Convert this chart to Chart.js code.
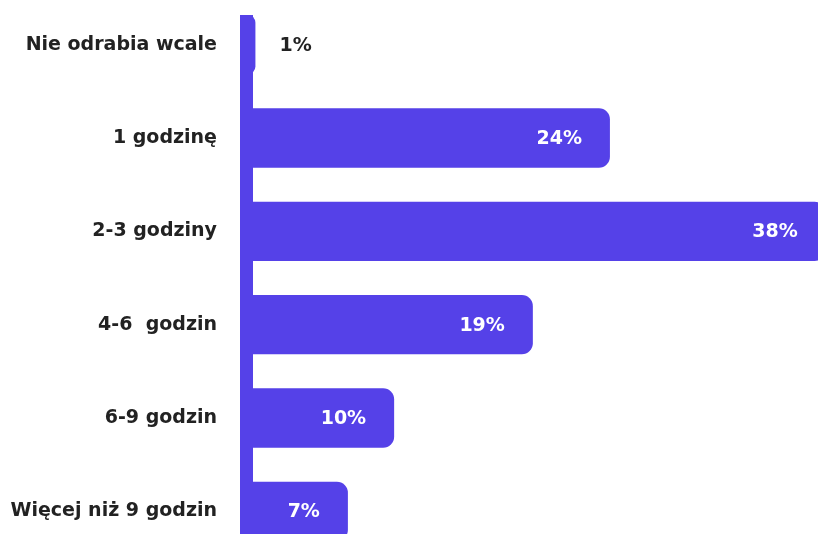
<!DOCTYPE html>
<html lang="pl">
<head>
<meta charset="UTF-8">
<title>Czas na prace domowe</title>
<script src="https://cdn.jsdelivr.net/npm/chart.js@4/dist/chart.umd.min.js"></script>
<style>
    html, body { margin: 0; padding: 0; background: #fff; overflow: hidden; }
    #wrap { position: absolute; left: 0; top: -2px; width: 818px; height: 560px; }
</style>
</head>
<body>
<div id="wrap"><canvas id="chart"></canvas></div>
<script>
// ========== dane ==========
const categories = ['Nie odrabia wcale', '1 godzinę', '2-3 godziny', '4-6  godzin', '6-9 godzin', 'Więcej niż 9 godzin'];
const percents = [1, 24, 38, 19, 10, 7];

const PURPLE = '#5541E8';
const DARK = '#222222';
const FONT = '"DejaVu Sans", sans-serif';

// ========== pionowa belka osi ==========
const axisBar = {
    id: 'axisBar',
    afterDatasetsDraw(chart) {
        const { ctx, chartArea, scales } = chart;
        const first = chart.getDatasetMeta(0).data[0];
        const x0 = scales.x.getPixelForValue(0);
        const top = first.y - first.height / 2;
        ctx.save();
        ctx.fillStyle = PURPLE;
        ctx.fillRect(x0, top, 13, chartArea.bottom - top);
        ctx.restore();
    }
};

// ========== etykiety wartości ==========
const valueLabels = {
    id: 'valueLabels',
    afterDatasetsDraw(chart) {
        const { ctx } = chart;
        const meta = chart.getDatasetMeta(0);
        ctx.save();
        ctx.font = 'bold 19px ' + FONT;
        ctx.textBaseline = 'middle';
        meta.data.forEach((bar, i) => {
            const text = percents[i] + '%';
            const width = bar.x - bar.base;
            if (width > 60) {
                ctx.fillStyle = '#ffffff';
                ctx.textAlign = 'right';
                ctx.fillText(text, bar.x - 28, bar.y + 1);
            } else {
                ctx.fillStyle = DARK;
                ctx.textAlign = 'left';
                ctx.fillText(text, bar.x + 24, bar.y + 1);
            }
        });
        ctx.restore();
    }
};

new Chart(document.getElementById('chart'), {
    type: 'bar',
    data: {
        labels: categories,
        datasets: [{
            data: percents,
            backgroundColor: PURPLE,
            borderSkipped: 'start',
            borderRadius: { topRight: 11, bottomRight: 11 },
            categoryPercentage: 1,
            barPercentage: 0.635
        }]
    },
    options: {
        indexAxis: 'y',
        responsive: true,
        maintainAspectRatio: false,
        animation: false,
        layout: { padding: 0 },
        plugins: {
            legend: { display: false },
            tooltip: { enabled: false }
        },
        scales: {
            x: {
                display: false,
                min: 0,
                max: 37.5
            },
            y: {
                afterFit(scale) {
                    scale.width = 240;
                    scale.paddingTop = 0;
                    scale.paddingBottom = 0;
                },
                grid: { display: false, drawTicks: false },
                border: { display: false },
                ticks: {
                    color: DARK,
                    padding: 23,
                    font: { family: FONT, size: 19, weight: 'bold' }
                }
            }
        }
    },
    plugins: [axisBar, valueLabels]
});
</script>
</body>
</html>
